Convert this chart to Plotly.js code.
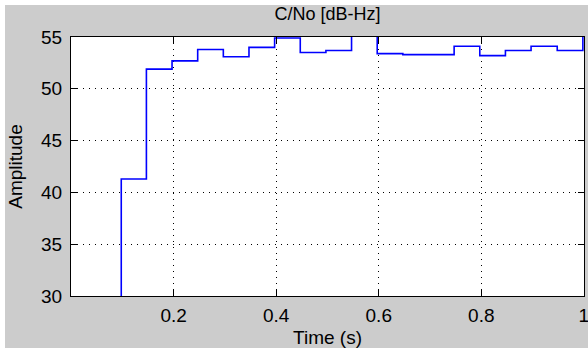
<!DOCTYPE html>
<html>
<head>
<meta charset="utf-8">
<script src="https://cdn.plot.ly/plotly-3.0.1.min.js"></script>
<style>
  html, body { margin: 0; padding: 0; background: #ffffff; }
  #chart { position: absolute; left: 5px; top: 5px; width: 583px; height: 343px; }
</style>
</head>
<body>
<div id="chart"></div>
<script>
// Step start times (s) and C/No values (dB-Hz) held until the next time
const stepTimes = [0.05, 0.098, 0.147, 0.197, 0.247, 0.297, 0.347, 0.397, 0.447, 0.497,
                   0.547, 0.597, 0.647, 0.697, 0.747, 0.797, 0.847, 0.897, 0.948, 0.998, 1.05];
const cnoValues = [20.0, 41.3, 51.9, 52.7, 53.8, 53.1, 54.0, 54.9, 53.5, 53.7,
                   56.0, 53.4, 53.3, 53.3, 54.1, 53.2, 53.7, 54.1, 53.7, 56.0, 56.0];

const xTickVals = [0.2, 0.4, 0.6, 0.8, 1];
const xTickText = ['0.2', '0.4', '0.6', '0.8', '1'];
const yTickVals = [30, 35, 40, 45, 50, 55];
const yTickText = ['30', '35', '40', '45', '50', '55'];

const FONT = 'Liberation Sans, Arial, sans-serif';

const trace = {
  x: stepTimes,
  y: cnoValues,
  type: 'scatter',
  mode: 'lines',
  line: { shape: 'hv', color: '#0000ff', width: 1.6 },
  hoverinfo: 'skip'
};

const axisCommon = {
  showline: true,
  linecolor: '#000000',
  linewidth: 1,
  mirror: 'ticks',
  ticks: 'inside',
  ticklen: 6,
  tickwidth: 1,
  tickcolor: '#000000',
  showgrid: true,
  gridcolor: '#000000',
  gridwidth: 1,
  griddash: '1px,5px',
  zeroline: false,
  tickfont: { family: FONT, size: 19, color: '#000000' },
  ticklabeloverflow: 'allow',
  automargin: false,
  fixedrange: true
};

const layout = {
  width: 583,
  height: 343,
  margin: { l: 66, r: 4, t: 32, b: 52, pad: 0 },
  paper_bgcolor: '#cccccc',
  plot_bgcolor: '#ffffff',
  showlegend: false,
  title: {
    text: 'C/No [dB-Hz]',
    font: { family: FONT, size: 18, color: '#000000' },
    x: 0.5, xref: 'paper', xanchor: 'center',
    y: 0.992, yref: 'container', yanchor: 'top',
    pad: { t: 0, b: 0 }
  },
  xaxis: Object.assign({}, axisCommon, {
    range: [0, 1.0002],
    tickmode: 'array',
    tickvals: xTickVals,
    ticktext: xTickText,
    ticklabelstandoff: 2,
    title: { text: 'Time (s)', font: { family: FONT, size: 19, color: '#000000' }, standoff: 8 }
  }),
  yaxis: Object.assign({}, axisCommon, {
    range: [30, 55],
    tickmode: 'array',
    tickvals: yTickVals,
    ticktext: yTickText,
    ticklabelstandoff: 4,
    title: { text: 'Amplitude', font: { family: FONT, size: 19, color: '#000000' }, standoff: 13 }
  })
};

Plotly.newPlot('chart', [trace], layout, { displayModeBar: false, staticPlot: true });
</script>
</body>
</html>
